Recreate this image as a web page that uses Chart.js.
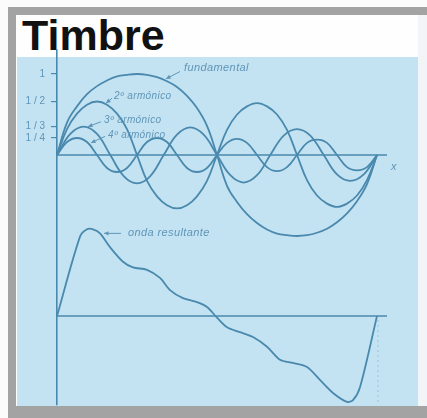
<!DOCTYPE html>
<html>
<head>
<meta charset="utf-8">
<script src="https://cdn.jsdelivr.net/npm/chart.js@4/dist/chart.umd.min.js"></script>
<style>
  html, body { margin: 0; padding: 0; }
  body { width: 427px; height: 418px; position: relative; overflow: hidden; background: #fbfbfb; }
  #frame {
    position: absolute; left: 8px; top: 7px; width: 440px; height: 413px;
    box-sizing: border-box; border-style: solid; border-color: #a3a3a4;
    border-width: 8px 0 14px 8px; background: #fefefe;
  }
  #side { position: absolute; left: 418px; top: 15px; width: 9px; height: 391px; background: #f2f5f7; }
  #panel { position: absolute; left: 17px; top: 57px; width: 401px; height: 349px; background: #c4e3f2; }
  #title {
    position: absolute; left: 22px; top: 14px; margin: 0;
    font: bold 43px/43px "Liberation Sans", Arial, sans-serif; color: #111;
  }
  #chart { position: absolute; left: 0; top: 0; }
</style>
</head>
<body>
<div id="frame"></div>
<div id="side"></div>
<div id="panel"></div>
<h1 id="title">Timbre</h1>
<canvas id="chart" width="427" height="418"></canvas>
<script>
// phase along the x axis (one fundamental period = 32 steps)
const phase = [0,1,2,3,4,5,6,7,8,9,10,11,12,13,14,15,16,17,18,19,20,21,22,23,24,25,26,27,28,29,30,31,32];
const fundamental = [0,0.40,0.60,0.75,0.85,0.92,0.97,0.99,1.00,0.99,0.96,0.91,0.84,0.73,0.58,0.36,0,
  -0.38,-0.58,-0.73,-0.84,-0.92,-0.97,-0.99,-1.00,-0.99,-0.96,-0.91,-0.83,-0.72,-0.57,-0.36,0];
const second = [0,0.32,0.51,0.62,0.66,0.62,0.51,0.32,0,-0.32,-0.51,-0.62,-0.66,-0.62,-0.51,-0.32,0,
  0.31,0.50,0.60,0.64,0.60,0.50,0.31,0,-0.31,-0.50,-0.60,-0.64,-0.60,-0.50,-0.31,0];
const phase3 = [0,1.33,2.67,4,5.33,6.67,8,9.33,10.67,12,13.33,14.67,16,17.33,18.67,20,21.33,22.67,24,25.33,26.67,28,29.33,30.67,32];
const third = [0,0.26,0.35,0.26,0,-0.26,-0.35,-0.26,0,0.25,0.34,0.25,0,-0.25,-0.34,-0.25,0,0.24,0.32,0.24,0,-0.24,-0.32,-0.24,0];
const fourth = [0,0.16,0.21,0.16,0,-0.16,-0.21,-0.16,0,0.16,0.21,0.16,0,-0.16,-0.21,-0.16,0,
  0.15,0.20,0.15,0,-0.15,-0.20,-0.15,0,0.15,0.19,0.15,0,-0.15,-0.19,-0.15,0];

// sum wave, lower panel
const resultX = [0,2.3,3.0,3.6,4.3,5.3,6.6,7.6,9.0,10.3,11.3,12.6,14.0,15.0,16.0,17.0,18.3,19.6,21.0,22.3,23.6,25.0,26.3,27.6,29.0,29.6,30.3,32.0];
const resultY = [0,0.98,1.07,1.07,1.02,0.85,0.67,0.60,0.57,0.47,0.32,0.22,0.17,0.11,-0.02,-0.14,-0.20,-0.26,-0.38,-0.54,-0.58,-0.63,-0.79,-0.95,-1.06,-1.04,-0.88,0];

const tickValues = [1, 0.66, 0.35, 0.21];
const tickLabels = ['1', '1 / 2', '1 / 3', '1 / 4'];
const curveNames = ['fundamental', '2º armónico', '3º armónico', '4º armónico'];
const resultName = 'onda resultante';

const ink = '#4a89ae';
const textInk = '#5f95b8';

const pts = (xs, ys) => xs.map((x, i) => ({ x, y: ys[i] }));
const curve = (data, axis, tension) => ({
  data, yAxisID: axis, borderColor: ink, borderWidth: 1.8, pointRadius: 0,
  fill: false, tension
});
const rule = (axis) => ({
  data: [{ x: 0, y: 0 }, { x: 33, y: 0 }], yAxisID: axis,
  borderColor: ink, borderWidth: 1.5, pointRadius: 0, fill: false
});

function arrow(ctx, x1, y1, x2, y2) {
  const a = Math.atan2(y2 - y1, x2 - x1);
  ctx.beginPath();
  ctx.moveTo(x1, y1); ctx.lineTo(x2, y2);
  ctx.stroke();
  ctx.beginPath();
  ctx.moveTo(x2, y2);
  ctx.lineTo(x2 - 5 * Math.cos(a - 0.45), y2 - 5 * Math.sin(a - 0.45));
  ctx.lineTo(x2 - 5 * Math.cos(a + 0.45), y2 - 5 * Math.sin(a + 0.45));
  ctx.closePath();
  ctx.fill();
}

// curve names with pointer arrows, plus the x axis letter
const notes = {
  id: 'notes',
  afterDatasetsDraw(chart) {
    const { ctx, scales: { x, y, y2 } } = chart;
    const X = v => x.getPixelForValue(v);
    const Y = v => y.getPixelForValue(v);
    const Y2 = v => y2.getPixelForValue(v);
    ctx.save();
    ctx.fillStyle = textInk;
    ctx.strokeStyle = textInk;
    ctx.lineWidth = 1;
    ctx.textBaseline = 'middle';
    ctx.font = 'italic 11px "Liberation Sans", Arial, sans-serif';
    ctx.letterSpacing = '0.4px';
    ctx.fillText(curveNames[0], X(12.7), Y(1.07));
    arrow(ctx, X(12.3), Y(1.03), X(10.9), Y(0.94));
    ctx.font = 'italic 10px "Liberation Sans", Arial, sans-serif';
    ctx.fillText(curveNames[1], X(5.7), Y(0.72));
    arrow(ctx, X(5.5), Y(0.70), X(4.9), Y(0.64));
    ctx.fillText(curveNames[2], X(4.7), Y(0.43));
    arrow(ctx, X(4.4), Y(0.41), X(3.1), Y(0.35));
    ctx.fillText(curveNames[3], X(5.1), Y(0.25));
    arrow(ctx, X(4.8), Y(0.23), X(3.4), Y(0.15));
    ctx.font = 'italic 11px "Liberation Sans", Arial, sans-serif';
    ctx.fillText(resultName, X(7.1), Y2(1.02));
    arrow(ctx, X(6.4), Y2(1.02), X(4.7), Y2(1.02));
    ctx.fillText('x', X(33.4), Y(-0.15));
    ctx.restore();
  }
};

new Chart(document.getElementById('chart'), {
  type: 'line',
  data: {
    datasets: [
      curve(pts(phase, fundamental), 'y', 0.4),
      curve(pts(phase, second), 'y', 0.4),
      curve(pts(phase3, third), 'y', 0.4),
      curve(pts(phase, fourth), 'y', 0.4),
      rule('y'),
      curve(pts(resultX, resultY), 'y2', 0.3),
      rule('y2'),
      {
        data: [{ x: 32.1, y: -0.05 }, { x: 32.1, y: -1.1 }], yAxisID: 'y2',
        borderColor: 'rgba(74,137,174,0.35)', borderWidth: 1, borderDash: [2, 3],
        pointRadius: 0, fill: false
      }
    ]
  },
  options: {
    responsive: false,
    animation: false,
    devicePixelRatio: 1,
    layout: { padding: { left: 0, right: 40, top: 50, bottom: 13 } },
    plugins: { legend: { display: false }, tooltip: { enabled: false } },
    scales: {
      x: { type: 'linear', min: 0, max: 33, display: false },
      y: {
        min: -3.086, max: 1.296,
        afterFit: s => { s.width = 57; },
        afterBuildTicks: s => { s.ticks = tickValues.map(v => ({ value: v })); },
        ticks: {
          autoSkip: false, padding: 6, color: textInk,
          font: { family: '"Liberation Sans", Arial, sans-serif', size: 10 },
          callback: v => tickLabels[tickValues.indexOf(v)]
        },
        grid: { drawOnChartArea: false, drawTicks: true, tickLength: 6, color: ink, lineWidth: 1.2 },
        border: { display: true, color: ink, width: 1.6 }
      },
      y2: { min: -1.099, max: 3.284, display: false }
    }
  },
  plugins: [notes]
});
</script>
</body>
</html>
